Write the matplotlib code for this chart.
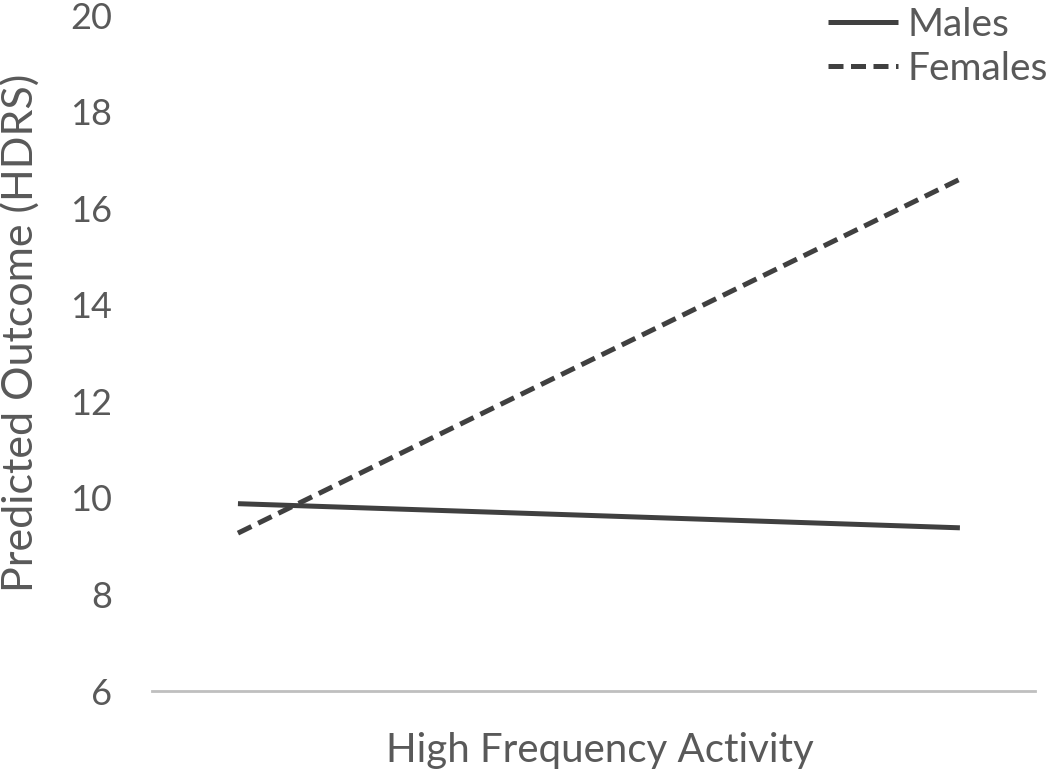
import matplotlib.pyplot as plt

# Valeurs
groups = ["Males", "Females"]
activity = [0, 1]  # bas / haut
males = [9.88, 9.38]
females = [9.27, 16.6]
yticks = [6, 8, 10, 12, 14, 16, 18, 20]

plt.rcParams["font.family"] = ["Lato", "DejaVu Sans"]
text_col = "#595959"

fig = plt.figure(figsize=(10.5, 7.74), dpi=100)
ax = fig.add_axes([0.1448, 0.1072, 0.8409, 0.8734])

ax.plot(activity, males, color="#404040", lw=3.6, solid_capstyle="butt", label=groups[0])
ax.plot(activity, females, color="#404040", lw=3.6, dashes=(3.0, 1.5), label=groups[1])

ax.set_xlim(-0.119, 1.104)
ax.set_ylim(6, 20)
ax.set_yticks(yticks)
ax.set_xticks([])

for s in ["left", "right", "top"]:
    ax.spines[s].set_visible(False)
ax.spines["bottom"].set_color("#bfbfbf")
ax.spines["bottom"].set_linewidth(2)

ax.tick_params(axis="y", length=0, pad=29, labelsize=26, labelcolor=text_col)

ax.set_ylabel("Predicted Outcome (HDRS)", fontsize=31, color=text_col)
ax.yaxis.set_label_coords(-0.127, 0.53)
ax.set_xlabel("High Frequency Activity", fontsize=29, color=text_col)
ax.xaxis.set_label_coords(0.507, -0.06)

leg = ax.legend(loc="upper right", bbox_to_anchor=(1.054, 1.064), frameon=False,
                fontsize=28, handlelength=1.8, handletextpad=0.25, labelspacing=0.2)
for t in leg.get_texts():
    t.set_color(text_col)

fig.savefig("out.png", dpi=100)
